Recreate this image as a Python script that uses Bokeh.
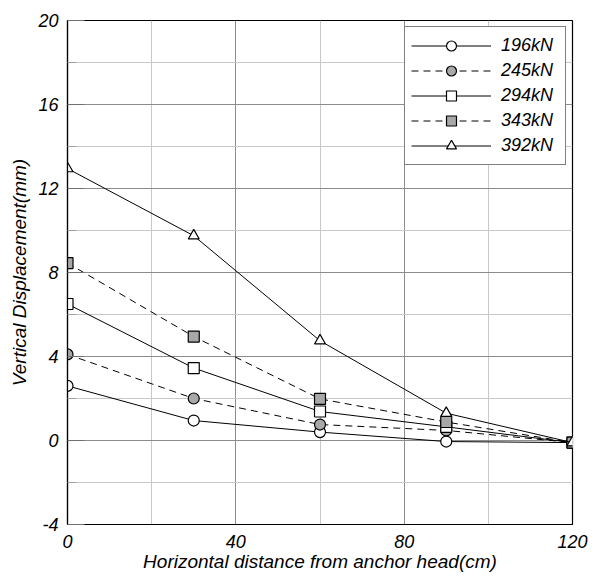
from bokeh.plotting import figure
from bokeh.models import FixedTicker, Range1d, Legend, LegendItem, ColumnDataSource
from bokeh.embed import file_html
from bokeh.resources import INLINE

x_cm = [0, 30, 60, 90, 120]
series_names = ["196kN", "245kN", "294kN", "343kN", "392kN"]
d196 = [2.6, 0.95, 0.4, -0.05, -0.1]
d245 = [4.1, 2.0, 0.76, 0.48, -0.1]
d294 = [6.5, 3.45, 1.38, 0.65, -0.1]
d343 = [8.45, 4.95, 1.98, 0.88, -0.1]
d392 = [12.95, 9.75, 4.75, 1.3, -0.1]
series_values = [d196, d245, d294, d343, d392]

x_ticks = [0, 40, 80, 120]
x_minor = [20, 60, 100]
y_ticks = [-4, 0, 4, 8, 12, 16, 20]
y_minor = [-2, 2, 6, 10, 14, 18]
y_tick_labels = {t: str(t) for t in y_ticks}

FONT = "Liberation Sans"
GRAY_FILL = "#a8a8a8"

p = figure(width=599, height=576, output_backend="svg", toolbar_location=None,
           x_range=Range1d(0, 120), y_range=Range1d(-4, 20),
           min_border_left=67, min_border_right=27, min_border_top=20, min_border_bottom=52)
p.outline_line_color = "black"
p.outline_line_width = 1.2
p.background_fill_color = "white"
p.border_fill_color = "white"

for ax, ticks, minor in ((p.xaxis, x_ticks, x_minor), (p.yaxis, y_ticks, y_minor)):
    ax.ticker = FixedTicker(ticks=ticks, minor_ticks=minor)
    ax.major_label_text_font = FONT
    ax.major_label_text_font_style = "italic"
    ax.major_label_text_font_size = "18px"
    ax.major_label_text_color = "black"
    ax.axis_label_text_font = FONT
    ax.axis_label_text_font_style = "italic"
    ax.axis_label_text_font_size = "19px"
    ax.axis_label_text_color = "black"
    ax.axis_line_color = "black"
    ax.axis_line_width = 1.2
    ax.major_tick_out = 0
    ax.minor_tick_out = 0
    ax.major_tick_in = 0
    ax.minor_tick_in = 0

p.yaxis.major_label_overrides = y_tick_labels
p.xaxis.major_label_standoff = 10
p.yaxis.major_label_standoff = 9
p.yaxis.major_tick_in = 17
p.yaxis.minor_tick_in = 9
p.yaxis.major_tick_line_color = "#707070"
p.yaxis.minor_tick_line_color = "#a0a0a0"
p.xaxis.axis_label = "Horizontal distance from anchor head(cm)"
p.yaxis.axis_label = "Vertical Displacement(mm)"
p.xaxis.axis_label_standoff = 0
p.yaxis.axis_label_standoff = 5

for g in (p.xgrid, p.ygrid):
    g.grid_line_color = "#8c8c8c"
    g.grid_line_width = 1
    g.minor_grid_line_color = "#c8c8c8"
    g.minor_grid_line_width = 1

styles = [
    ("circle", "white", "solid"),
    ("circle", GRAY_FILL, "7 5"),
    ("square", "white", "solid"),
    ("square", GRAY_FILL, "7 5"),
    ("triangle", "white", "solid"),
]

items = []
for name, vals, (marker, fill, dash) in zip(series_names, series_values, styles):
    src = ColumnDataSource(dict(x=x_cm, y=vals))
    ln = p.line("x", "y", source=src, line_color="black", line_width=1, line_dash=dash)
    sc = p.scatter("x", "y", source=src, marker=marker, size=11, fill_color=fill,
                   line_color="black", line_width=1.2)
    items.append(LegendItem(label=name, renderers=[ln, sc]))

legend = Legend(items=items, location="top_right")
legend.label_text_font = FONT
legend.label_text_font_style = "italic"
legend.label_text_font_size = "18px"
legend.label_text_color = "black"
legend.glyph_width = 80
legend.glyph_height = 25
legend.label_standoff = 10
legend.label_width = 58
legend.spacing = 0
legend.padding = 6
legend.margin = 6
legend.border_line_color = "black"
legend.border_line_width = 1
legend.background_fill_color = "white"
legend.background_fill_alpha = 1
p.add_layout(legend)

open("out.html", "w").write(file_html(p, INLINE))
